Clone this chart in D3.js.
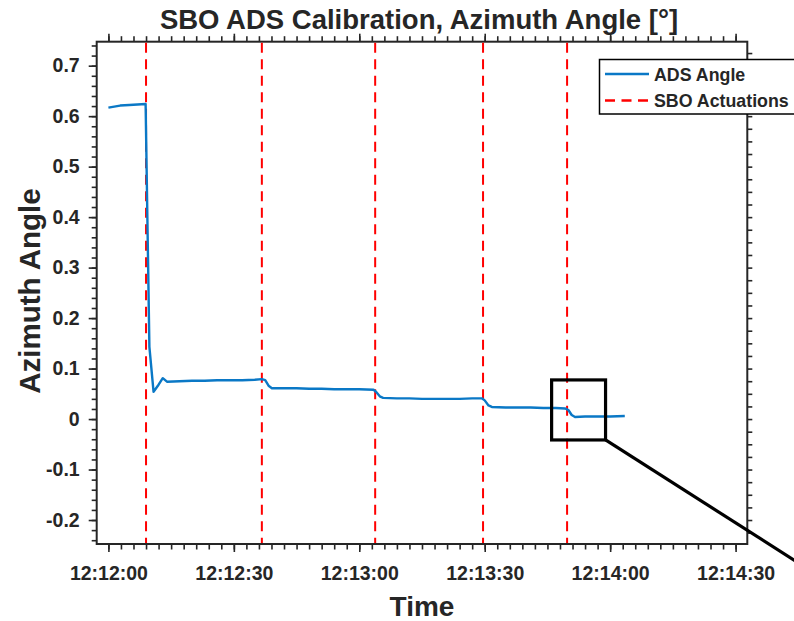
<!doctype html>
<html lang="en">
<head>
<meta charset="utf-8">
<script src="https://d3js.org/d3.v7.min.js"></script>
<title>SBO ADS Calibration, Azimuth Angle</title>
<style>
  body { margin: 0; background: #fff; }
  svg text { font-family: "Liberation Sans", Arial, Helvetica, sans-serif; font-weight: bold; fill: #262626; }
</style>
</head>
<body>
<svg id="svg" width="794" height="621"></svg>
<script>
// seconds after 12:12:00
const tSec = [0, 2.8, 5, 8.9, 9.8, 10.8, 12, 13, 14, 17, 20, 23, 26, 29, 32, 35, 36.7, 37.5, 38.3, 39.1,
  42, 45, 48, 51, 54, 57, 60, 63.4, 64, 64.9, 65.7, 69, 72, 75, 78, 81, 84, 87, 89.3, 90, 90.9, 91.7,
  95, 98, 101, 104, 107, 109.2, 110, 110.8, 111.6, 114, 117, 120, 123.5];
const angle = [0.617, 0.621, 0.622, 0.624, 0.143, 0.054, 0.068, 0.081, 0.074, 0.075, 0.076, 0.076, 0.077, 0.077, 0.077, 0.078, 0.079, 0.077, 0.066, 0.061,
  0.061, 0.061, 0.060, 0.060, 0.059, 0.059, 0.059, 0.058, 0.054, 0.045, 0.042, 0.041, 0.041, 0.040, 0.040, 0.040, 0.040, 0.041, 0.041, 0.037, 0.027, 0.024,
  0.023, 0.023, 0.023, 0.022, 0.022, 0.021, 0.018, 0.008, 0.004, 0.005, 0.005, 0.005, 0.006];
const actuations = [9.0, 36.7, 63.8, 89.6, 109.7];

const xTickSec = [0, 30, 60, 90, 120, 150];
const xTickLabels = ["12:12:00", "12:12:30", "12:13:00", "12:13:30", "12:14:00", "12:14:30"];
const yTicks = [-0.2, -0.1, 0, 0.1, 0.2, 0.3, 0.4, 0.5, 0.6, 0.7];
const yTickLabels = ["-0.2", "-0.1", "0", "0.1", "0.2", "0.3", "0.4", "0.5", "0.6", "0.7"];

// zoom box annotation (time in s, angle)
const zoomBox = { t0: 106, t1: 118.9, a0: -0.0414, a1: 0.0775 };
const zoomLineEnd = { t: 166, a: -0.29 };

const base = new Date(2000, 0, 1, 12, 12, 0);
const toDate = s => new Date(base.getTime() + s * 1000);

const box = { left: 96.7, right: 747.3, top: 41.7, bottom: 544 };
const axisColor = "#262626";

const svg = d3.select("#svg");

const x = d3.scaleTime().domain([toDate(-2.8), toDate(152.8)]).range([box.left, box.right]);
const y = d3.scaleLinear().domain([-0.2475, 0.7475]).range([box.bottom, box.top]);

const minorX = d3.range(0, 151, 3).map(toDate);
const minorY = d3.range(-24, 75, 2).map(v => v / 100);
const rightY = d3.range(-9, 30).map(v => v * 0.025);

function styleAxis(g) {
  g.select(".domain").remove();
  g.selectAll("line").attr("stroke", axisColor).attr("stroke-width", 1.6);
}

// minor ticks (no labels)
svg.append("g").attr("transform", `translate(0,${box.bottom})`)
  .call(d3.axisBottom(x).tickValues(minorX).tickSize(5.5).tickFormat(""))
  .call(styleAxis);
svg.append("g").attr("transform", `translate(0,${box.top})`)
  .call(d3.axisTop(x).tickValues(minorX).tickSize(5.5).tickFormat(""))
  .call(styleAxis);
svg.append("g").attr("transform", `translate(${box.left},0)`)
  .call(d3.axisLeft(y).tickValues(minorY).tickSize(5).tickFormat(""))
  .call(styleAxis);
svg.append("g").attr("transform", `translate(${box.right},0)`)
  .call(d3.axisRight(y).tickValues(rightY).tickSize(5).tickFormat(""))
  .call(styleAxis);

// major ticks
svg.append("g").attr("transform", `translate(0,${box.bottom})`)
  .call(d3.axisBottom(x).tickValues(xTickSec.map(toDate)).tickSize(8).tickPadding(14)
    .tickFormat((d, i) => xTickLabels[i]))
  .call(styleAxis);
svg.append("g").attr("transform", `translate(0,${box.top})`)
  .call(d3.axisTop(x).tickValues(xTickSec.map(toDate)).tickSize(8).tickFormat(""))
  .call(styleAxis);
svg.append("g").attr("transform", `translate(${box.left},0)`)
  .call(d3.axisLeft(y).tickValues(yTicks).tickSize(8).tickPadding(9)
    .tickFormat((d, i) => yTickLabels[i]))
  .call(styleAxis);

svg.selectAll(".tick text").attr("font-size", 19.5).attr("font-family", null).attr("fill", axisColor);

// frame
svg.append("rect")
  .attr("x", box.left).attr("y", box.top)
  .attr("width", box.right - box.left).attr("height", box.bottom - box.top)
  .attr("fill", "none").attr("stroke", axisColor).attr("stroke-width", 2);

// actuation lines
svg.append("g").selectAll("line")
  .data(actuations)
  .join("line")
  .attr("x1", d => x(toDate(d))).attr("x2", d => x(toDate(d)))
  .attr("y1", box.top + 1).attr("y2", box.bottom - 1)
  .attr("stroke", "#ff0000").attr("stroke-width", 2)
  .attr("stroke-dasharray", "10,6.5");

// ADS angle line
const series = tSec.map((t, i) => ({ t: toDate(t), a: angle[i] }));
svg.append("path")
  .datum(series)
  .attr("fill", "none")
  .attr("stroke", "#0a78c6")
  .attr("stroke-width", 2.4)
  .attr("stroke-linejoin", "round")
  .attr("d", d3.line().x(d => x(d.t)).y(d => y(d.a)));

// zoom box + leader line
svg.append("rect")
  .attr("x", x(toDate(zoomBox.t0))).attr("y", y(zoomBox.a1))
  .attr("width", x(toDate(zoomBox.t1)) - x(toDate(zoomBox.t0)))
  .attr("height", y(zoomBox.a0) - y(zoomBox.a1))
  .attr("fill", "none").attr("stroke", "#000").attr("stroke-width", 3.2);
svg.append("line")
  .attr("x1", x(toDate(zoomBox.t1))).attr("y1", y(zoomBox.a0))
  .attr("x2", x(toDate(zoomLineEnd.t))).attr("y2", y(zoomLineEnd.a))
  .attr("stroke", "#000").attr("stroke-width", 3.2);

// legend
const legend = svg.append("g").attr("transform", "translate(599.5,59.5)");
legend.append("rect").attr("width", 210).attr("height", 54.5)
  .attr("fill", "#fff").attr("stroke", "#000").attr("stroke-width", 1.5);
const legItems = [
  { label: "ADS Angle", color: "#0a78c6", dash: null, y: 14.5 },
  { label: "SBO Actuations", color: "#ff0000", dash: "10,6.5", y: 41 }
];
legItems.forEach(it => {
  legend.append("line").attr("x1", 5.5).attr("x2", 49.5).attr("y1", it.y).attr("y2", it.y)
    .attr("stroke", it.color).attr("stroke-width", 2.4).attr("stroke-dasharray", it.dash);
  legend.append("text").attr("x", 54.5).attr("y", it.y + 6.5)
    .attr("font-size", 17.8).text(it.label);
});

// titles
svg.append("text").attr("x", 419).attr("y", 29).attr("text-anchor", "middle")
  .attr("font-size", 27.5).text("SBO ADS Calibration, Azimuth Angle [°]");
svg.append("text").attr("x", 422).attr("y", 616).attr("text-anchor", "middle")
  .attr("font-size", 28).text("Time");
svg.append("text").attr("transform", "translate(40,291) rotate(-90)").attr("text-anchor", "middle")
  .attr("font-size", 29.5).text("Azimuth Angle");
</script>
</body>
</html>
